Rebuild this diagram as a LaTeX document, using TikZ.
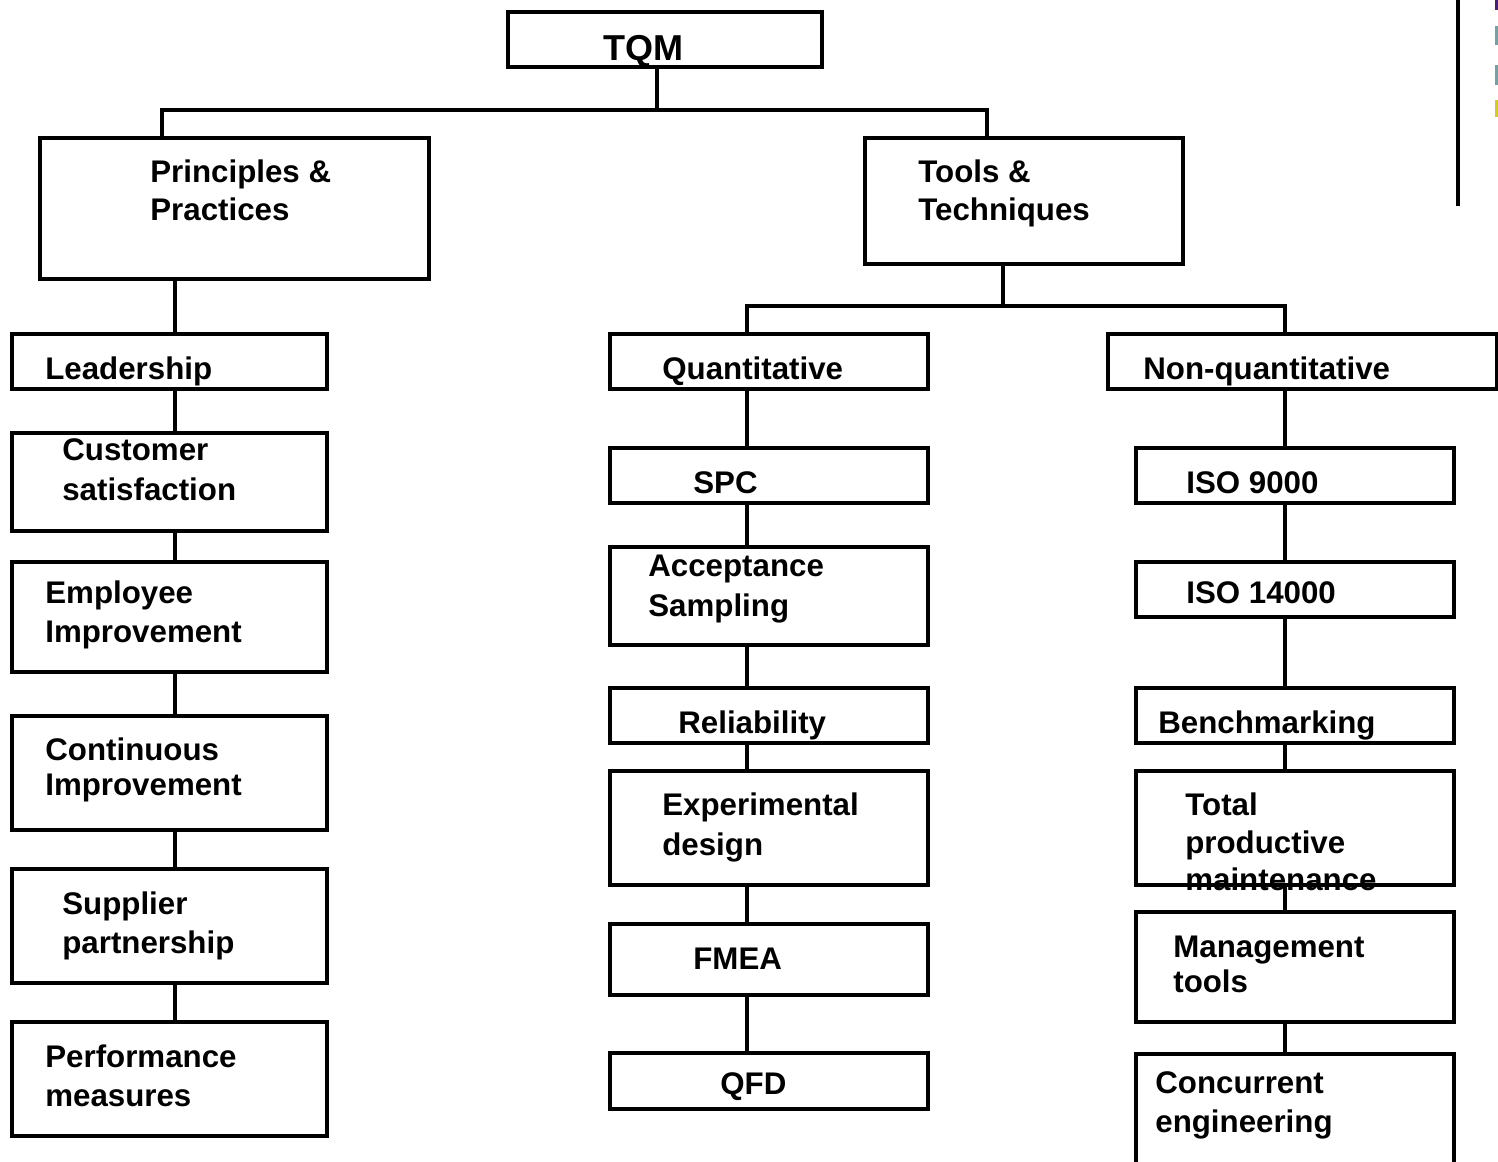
\documentclass[tikz,border=0pt]{standalone}
\usepackage{fontspec}
\setmainfont{Liberation Sans}
\usetikzlibrary{fit}
\definecolor{mkpurple}{HTML}{4B1E78}
\definecolor{mkteal}{HTML}{6FA3A6}
\definecolor{mkyellow}{HTML}{D6CC1E}
\tikzset{
  box/.style={draw=black, line width=1.9pt, inner sep=0pt, rectangle},
  link/.style={draw=black, line width=1.9pt},
  lbl/.style={anchor=base west, inner sep=0pt, text=black,
    font=\fontsize{17.8pt}{17.8pt}\selectfont\bfseries},
  title/.style={lbl, font=\fontsize{20.5pt}{20.5pt}\selectfont\bfseries},
}
% a box from its corner coordinates
\newcommand\mkbox[5]{\node[box, fit={(#2,#3)(#4,#5)}] (#1) {};}
% one line of box text, placed by its baseline start
\newcommand\mktext[4]{\node[lbl] (#1) at (#2,#3) {#4};}
\begin{document}
\begin{tikzpicture}[x=0.02cm, y=-0.02cm]
\useasboundingbox (0,0) rectangle (1498,1162);
\clip (0,0) rectangle (1498,1162);

% column and junction positions
\coordinate (j1) at (657,110);
\coordinate (xa) at (162,0);
\coordinate (xb) at (987,0);
\coordinate (cL) at (175,0);
\coordinate (j2) at (1003,306);
\coordinate (cM) at (747,0);
\coordinate (cR) at (1285,0);

% top level
\mkbox{tqm}{508}{12}{822}{67}
\node[title] (tqmt) at (603,61) {TQM};
\mkbox{pp}{40}{138}{429}{279}
\mktext{ppa}{150}{183}{Principles \&}
\mktext{ppb}{150}{221}{Practices}
\mkbox{tt}{865}{138}{1183}{264}
\mktext{tta}{918}{183}{Tools \&}
\mktext{ttb}{918}{221}{Techniques}

% principles column
\mkbox{lead}{12}{334}{327}{389}
\mktext{leada}{45}{379}{Leadership}
\mkbox{cust}{12}{433}{327}{531}
\mktext{custa}{62}{460}{Customer}
\mktext{custb}{62}{500}{satisfaction}
\mkbox{empl}{12}{562}{327}{672}
\mktext{empla}{45}{603}{Employee}
\mktext{emplb}{45}{642}{Improvement}
\mkbox{cont}{12}{716}{327}{830}
\mktext{conta}{45}{760}{Continuous}
\mktext{contb}{45}{795}{Improvement}
\mkbox{supp}{12}{869}{327}{983}
\mktext{suppa}{62}{914}{Supplier}
\mktext{suppb}{62}{953}{partnership}
\mkbox{perf}{12}{1022}{327}{1136}
\mktext{perfa}{45}{1067}{Performance}
\mktext{perfb}{45}{1106}{measures}

% quantitative column
\mkbox{quan}{610}{334}{928}{389}
\mktext{quana}{662}{379}{Quantitative}
\mkbox{spc}{610}{448}{928}{503}
\mktext{spca}{693}{493}{SPC}
\mkbox{acc}{610}{547}{928}{645}
\mktext{acca}{648}{576}{Acceptance}
\mktext{accb}{648}{616}{Sampling}
\mkbox{rel}{610}{688}{928}{743}
\mktext{rela}{678}{733}{Reliability}
\mkbox{exp}{610}{771}{928}{885}
\mktext{expa}{662}{815}{Experimental}
\mktext{expb}{662}{855}{design}
\mkbox{fmea}{610}{924}{928}{995}
\mktext{fmeaa}{693}{969}{FMEA}
\mkbox{qfd}{610}{1053}{928}{1109}
\mktext{qfda}{720}{1094}{QFD}

% non-quantitative column
\mkbox{nonq}{1108}{334}{1497}{389}
\mktext{nonqa}{1143}{379}{Non-quantitative}
\mkbox{isoa}{1136}{448}{1454}{503}
\mktext{isoaa}{1186}{493}{ISO 9000}
\mkbox{isob}{1136}{562}{1454}{617}
\mktext{isoba}{1186}{603}{ISO 14000}
\mkbox{bench}{1136}{688}{1454}{743}
\mktext{bencha}{1158}{733}{Benchmarking}
\mkbox{tpm}{1136}{771}{1454}{885}
\mktext{tpma}{1185}{815}{Total}
\mktext{tpmb}{1185}{853}{productive}
\mktext{tpmc}{1185}{890}{maintenance}
\mkbox{mgmt}{1136}{912}{1454}{1022}
\mktext{mgmta}{1173}{957}{Management}
\mktext{mgmtb}{1173}{992}{tools}
\mkbox{conc}{1136}{1054}{1454}{1185}
\mktext{conca}{1155}{1093}{Concurrent}
\mktext{concb}{1155}{1132}{engineering}

% connectors: top level
\draw[link] (tqm.south -| j1) -- (j1);
\draw[link] (pp.north -| xa) |- (j1) -| (tt.north -| xb);

% connectors: principles column
\draw[link] (pp.south -| cL) -- (lead.north -| cL);
\draw[link] (lead.south -| cL) -- (cust.north -| cL);
\draw[link] (cust.south -| cL) -- (empl.north -| cL);
\draw[link] (empl.south -| cL) -- (cont.north -| cL);
\draw[link] (cont.south -| cL) -- (supp.north -| cL);
\draw[link] (supp.south -| cL) -- (perf.north -| cL);

% connectors: tools split
\draw[link] (tt.south -| j2) -- (j2);
\draw[link] (quan.north -| cM) |- (j2) -| (nonq.north -| cR);

% connectors: quantitative column
\draw[link] (quan.south -| cM) -- (spc.north -| cM);
\draw[link] (spc.south -| cM) -- (acc.north -| cM);
\draw[link] (acc.south -| cM) -- (rel.north -| cM);
\draw[link] (rel.south -| cM) -- (exp.north -| cM);
\draw[link] (exp.south -| cM) -- (fmea.north -| cM);
\draw[link] (fmea.south -| cM) -- (qfd.north -| cM);

% connectors: non-quantitative column
\draw[link] (nonq.south -| cR) -- (isoa.north -| cR);
\draw[link] (isoa.south -| cR) -- (isob.north -| cR);
\draw[link] (isob.south -| cR) -- (bench.north -| cR);
\draw[link] (bench.south -| cR) -- (tpm.north -| cR);
\draw[link] (tpm.south -| cR) -- (mgmt.north -| cR);
\draw[link] (mgmt.south -| cR) -- (conc.north -| cR);

% rule and colour marks at the upper right edge
\draw[line width=2.2pt] (1458,0) -- (1458,206);
\fill[mkpurple] (1495,0) rectangle (1498,10);
\fill[mkteal] (1495,26) rectangle (1498,45);
\fill[mkteal] (1495,65) rectangle (1498,85);
\fill[mkyellow] (1495,100) rectangle (1498,117);
\end{tikzpicture}
\end{document}
